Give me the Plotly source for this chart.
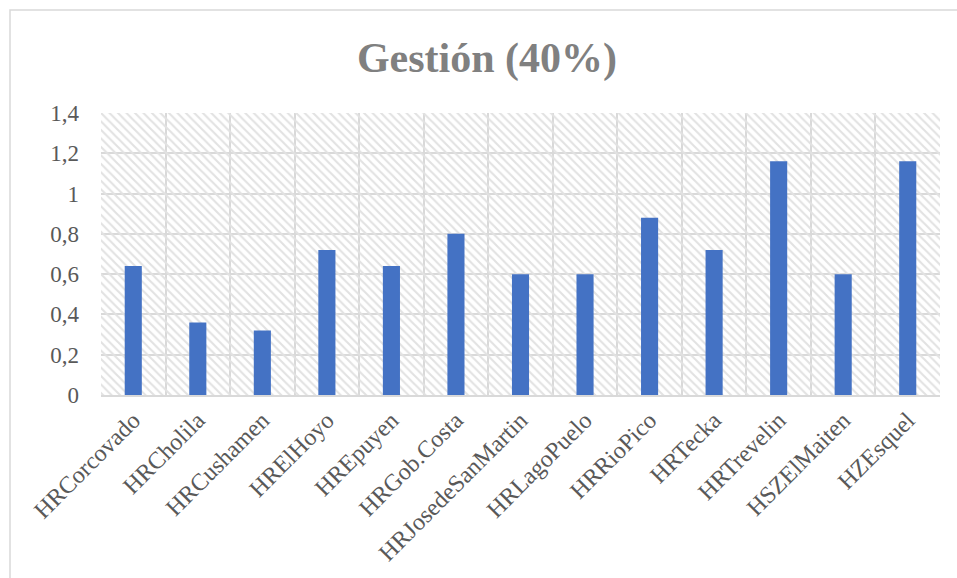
import plotly.graph_objects as go

categories = ["HRCorcovado", "HRCholila", "HRCushamen", "HRElHoyo", "HREpuyen",
              "HRGob.Costa", "HRJosedeSanMartin", "HRLagoPuelo", "HRRioPico",
              "HRTecka", "HRTrevelin", "HSZElMaiten", "HZEsquel"]
values = [0.64, 0.36, 0.32, 0.72, 0.64, 0.80, 0.60, 0.60, 0.88, 0.72, 1.16, 0.60, 1.16]
y_ticks = [0, 0.2, 0.4, 0.6, 0.8, 1.0, 1.2, 1.4]
title_text = "Gestión (40%)"

W, H = 957, 578
L, R, T, B = 101, 17, 113, 183
pw, ph = W - L - R, H - T - B

fig = go.Figure()
# hatched background of the plot area
fig.add_trace(go.Bar(
    x=[categories[len(categories) // 2]], y=[max(y_ticks)], width=[len(categories)],
    marker=dict(color="rgba(0,0,0,0)", line=dict(width=0),
                pattern=dict(shape="\\", fgcolor="#e2e2e2", bgcolor="rgba(0,0,0,0)",
                             size=6, solidity=0.35, fillmode="replace")),
    hoverinfo="skip", showlegend=False))
fig.add_trace(go.Bar(
    x=categories, y=values, width=0.265,
    marker=dict(color="#4472c4", line=dict(width=0)),
    showlegend=False))

fig.update_layout(
    width=W, height=H,
    margin=dict(l=L, r=R, t=T, b=B),
    barmode="overlay",
    separators=",.",
    paper_bgcolor="white", plot_bgcolor="white",
    font=dict(family="Liberation Serif", color="#595959"),
    title=dict(text="<b>" + title_text + "</b>", x=487 / W, xref="container", xanchor="center",
               y=(H - 57) / H, yanchor="middle",
               font=dict(family="Liberation Serif", size=42, color="#808080")),
    xaxis=dict(type="category", categoryorder="array", categoryarray=categories,
               range=[-0.5, len(categories) - 0.5],
               tickson="boundaries", showgrid=True, gridcolor="#d9d9d9", gridwidth=1.5,
               showline=True, linecolor="#d9d9d9", linewidth=1.5,
               ticks="", tickangle=-45, tickfont=dict(size=24, color="#595959")),
    yaxis=dict(range=[0, 1.4], tickvals=y_ticks, showgrid=True, gridcolor="#d9d9d9",
               gridwidth=1.5, zeroline=False, ticks="", ticklabelstandoff=21,
               tickfont=dict(size=23, color="#595959")),
    shapes=[dict(type="rect", xref="paper", yref="paper",
                 x0=(10 - L) / pw, x1=(962 - L) / pw,
                 y0=-(H + 5 - (T + ph)) / ph, y1=(T + ph - 10) / ph,
                 line=dict(color="#d9d9d9", width=1.5), fillcolor="rgba(0,0,0,0)",
                 layer="below")],
)

fig.write_html("out.html")
